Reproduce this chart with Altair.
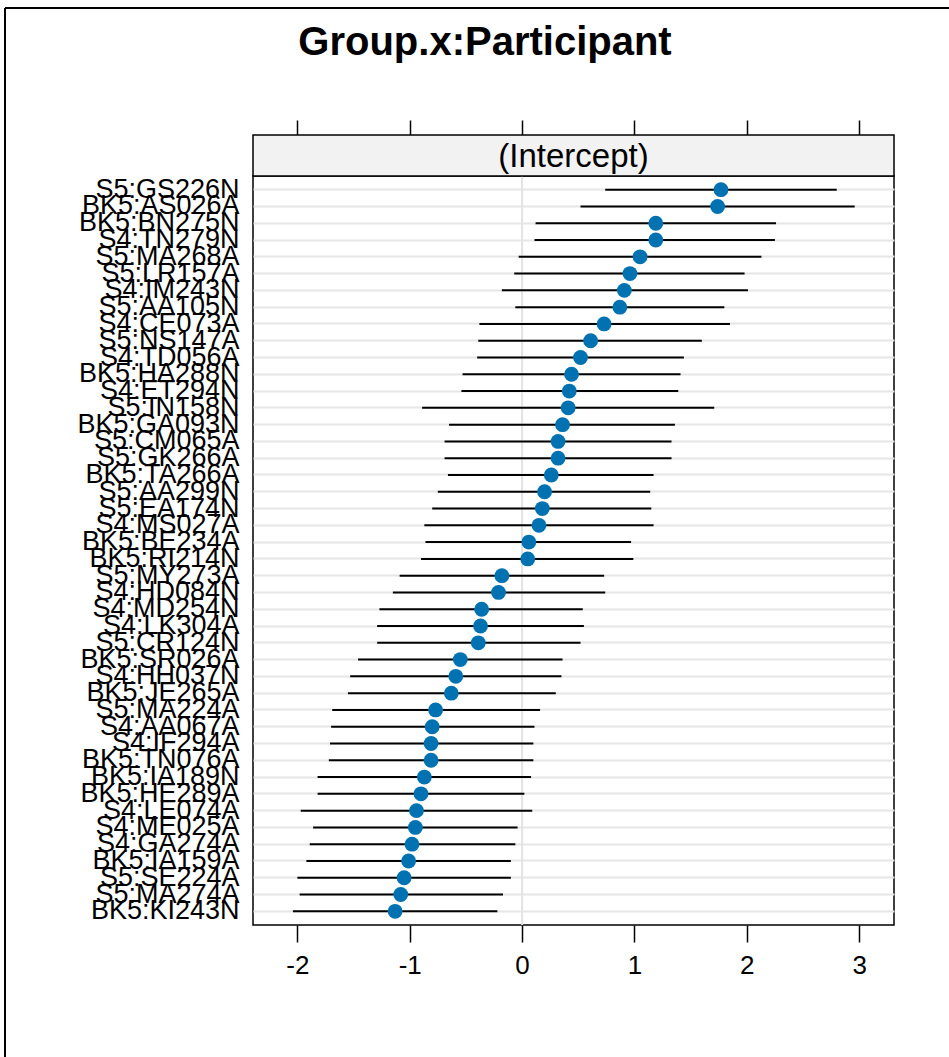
import altair as alt
import pandas as pd

# Random-effect estimates (intercept) per participant, with interval bounds
participants = [
    "S5:GS226N", "BK5:AS026A", "BK5:BN275N", "S4:TN279N", "S5:MA268A",
    "S5:LR157A", "S4:IM243N", "S5:AA105N", "S4:CE073A", "S5:NS147A",
    "S4:TD056A", "BK5:HA288N", "S4:ET294N", "S5:IN158N", "BK5:GA093N",
    "S5:CM065A", "S5:GK266A", "BK5:TA266A", "S5:AA299N", "S5:EA174N",
    "S4:MS027A", "BK5:BE234A", "BK5:RI214N", "S5:MY273A", "S4:HD084N",
    "S4:MD254N", "S4:LK304A", "S5:CR124N", "BK5:SR026A", "S4:HH037N",
    "BK5:JE265A", "S5:MA224A", "S4:AA067A", "S4:IF294A", "BK5:TN076A",
    "BK5:IA189N", "BK5:HE289A", "S4:LE074A", "S4:ME025A", "S4:GA274A",
    "BK5:IA159A", "S5:SE224A", "S5:MA274A", "BK5:KI243N",
]
estimate = [
    1.77, 1.74, 1.19, 1.19, 1.05,
    0.96, 0.91, 0.87, 0.73, 0.61,
    0.52, 0.44, 0.42, 0.41, 0.36,
    0.32, 0.32, 0.26, 0.20, 0.18,
    0.15, 0.06, 0.05, -0.18, -0.21,
    -0.36, -0.37, -0.39, -0.55, -0.59,
    -0.63, -0.77, -0.80, -0.81, -0.81,
    -0.87, -0.90, -0.94, -0.95, -0.98,
    -1.01, -1.05, -1.08, -1.13,
]
lower = [
    0.74, 0.52, 0.12, 0.11, -0.03,
    -0.07, -0.18, -0.06, -0.38, -0.39,
    -0.40, -0.53, -0.54, -0.89, -0.65,
    -0.69, -0.69, -0.66, -0.75, -0.80,
    -0.87, -0.86, -0.90, -1.09, -1.15,
    -1.27, -1.29, -1.29, -1.46, -1.53,
    -1.55, -1.69, -1.70, -1.71, -1.72,
    -1.82, -1.82, -1.97, -1.86, -1.89,
    -1.92, -2.00, -1.98, -2.04,
]
upper = [
    2.80, 2.96, 2.26, 2.25, 2.13,
    1.98, 2.01, 1.80, 1.85, 1.60,
    1.44, 1.41, 1.39, 1.71, 1.36,
    1.33, 1.33, 1.17, 1.14, 1.15,
    1.17, 0.97, 0.99, 0.73, 0.74,
    0.54, 0.55, 0.52, 0.36, 0.35,
    0.30, 0.16, 0.11, 0.10, 0.10,
    0.08, 0.02, 0.09, -0.04, -0.06,
    -0.10, -0.10, -0.17, -0.22,
]
x_ticks = [-2, -1, 0, 1, 2, 3]
strip_label = ["(Intercept)"]
title_text = ["Group.x:Participant"]

df = pd.DataFrame({
    "participant": participants,
    "estimate": estimate,
    "lower": lower,
    "upper": upper,
})

FONT = "Liberation Sans"
PANEL_W = 641
PANEL_H = 749
STRIP_H = 41

x_scale = alt.Scale(domain=[-2.395, 3.31], nice=False, zero=False)
y_scale = alt.Scale(domain=participants, padding=0.63)

bottom_axis = alt.Axis(
    title=None, values=x_ticks, grid=False, domain=False,
    tickSize=17, tickColor="black", tickWidth=1.5,
    labelFont=FONT, labelFontSize=26, labelColor="black", labelPadding=10,
    labelExpr="'' + datum.value",
)
top_axis = alt.Axis(
    orient="top", offset=STRIP_H, title=None, values=x_ticks, grid=False,
    domain=False, labels=False, tickSize=15, tickColor="black", tickWidth=1.5,
)
y_axis = alt.Axis(
    title=None, ticks=False, domain=False, labelFont=FONT, labelFontSize=27,
    labelColor="black", labelPadding=14, labelLimit=0, labelOverlap=False,
    grid=True, gridColor="#e6e6e6", gridWidth=2,
)

zero_line = alt.Chart(pd.DataFrame({"v": [0]})).mark_rule(
    color="#e3e3e3", strokeWidth=2
).encode(x=alt.X("v:Q", scale=x_scale, axis=None))

intervals = alt.Chart(df).mark_rule(color="black", strokeWidth=2).encode(
    x=alt.X("lower:Q", scale=x_scale, axis=top_axis),
    x2="upper:Q",
    y=alt.Y("participant:N", scale=y_scale, axis=y_axis, sort=participants),
)

points = alt.Chart(df).mark_circle(size=220, color="#0072B2", opacity=1).encode(
    x=alt.X("estimate:Q", scale=x_scale, axis=bottom_axis),
    y=alt.Y("participant:N", scale=y_scale, axis=y_axis, sort=participants),
)

strip_df = pd.DataFrame({"label": strip_label})
strip_box = alt.Chart(strip_df).mark_rect(
    fill="#f2f2f2", stroke="black", strokeWidth=1.5
).encode(
    x=alt.value(0), x2=alt.value(PANEL_W),
    y=alt.value(-STRIP_H), y2=alt.value(0),
)
strip_text = alt.Chart(strip_df).mark_text(
    font=FONT, fontSize=33, color="black", baseline="middle", align="center"
).encode(
    text="label:N", x=alt.value(PANEL_W / 2), y=alt.value(-STRIP_H / 2 + 1),
)

# chart heading, placed above the strip
heading = alt.Chart(pd.DataFrame({"t": title_text})).mark_text(
    font=FONT, fontSize=40, fontWeight="bold", color="black",
    baseline="alphabetic", align="center",
).encode(text="t:N", x=alt.value(232), y=alt.value(-121))

# page frame along the left and top edges
frame_left = alt.Chart(strip_df).mark_rule(color="black", strokeWidth=2).encode(
    x=alt.value(-248), y=alt.value(-168), y2=alt.value(900),
)
frame_top = alt.Chart(strip_df).mark_rule(color="black", strokeWidth=2).encode(
    x=alt.value(-248), x2=alt.value(720), y=alt.value(-168),
)

chart = alt.layer(
    zero_line, intervals, points, strip_box, strip_text, heading,
    frame_left, frame_top
).resolve_axis(x="independent").properties(
    width=PANEL_W,
    height=PANEL_H,
    autosize=alt.AutoSizeParams(type="none"),
    padding={"left": 253, "top": 176, "right": 55, "bottom": 132},
    background="white",
).configure_view(stroke="black", strokeWidth=1.5)

chart.save("out.html", embed_options={"renderer": "svg", "actions": False})
